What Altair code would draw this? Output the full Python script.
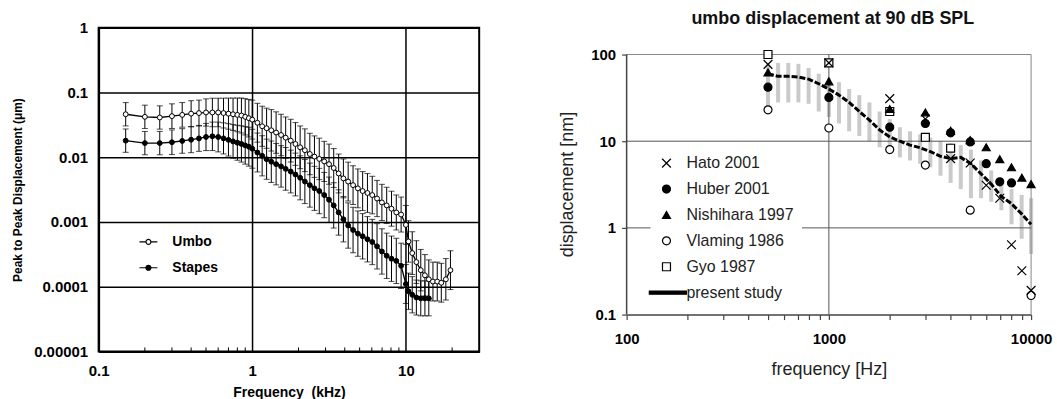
import altair as alt
import pandas as pd

FONT = "Liberation Sans"

# ---------------- Left panel: peak-to-peak displacement (µm) vs frequency (kHz)
FREQ_KHZ = [0.15, 0.2, 0.25, 0.3, 0.35, 0.4, 0.45, 0.5, 0.55, 0.6, 0.65, 0.7, 0.75, 0.8,
            0.85, 0.9, 0.95, 1.0,
            1.08, 1.16, 1.24, 1.33, 1.43, 1.54, 1.65, 1.78, 1.91,
            2.05, 2.2, 2.37, 2.54, 2.73, 2.94,
            3.16, 3.39, 3.65, 3.92,
            4.21, 4.53, 4.87,
            5.23, 5.62,
            6.04, 6.49, 6.98,
            7.5,
            8.06, 8.66,
            9.31,
            10.0, 10.4, 11.0, 11.7, 12.5, 13.3, 14.1, 15.0, 16.0, 17.0, 18.2, 19.5]

UMBO_UM = [0.046, 0.042, 0.041, 0.043, 0.045, 0.047, 0.048, 0.049, 0.049, 0.049, 0.048, 0.047,
           0.046, 0.045, 0.044, 0.042, 0.040, 0.038,
           0.034, 0.030, 0.028, 0.026, 0.024, 0.022, 0.020, 0.018, 0.016,
           0.0142, 0.0128, 0.0112, 0.0102, 0.0094, 0.0086,
           0.0078, 0.0068, 0.0056, 0.0047,
           0.0042, 0.0037, 0.0033,
           0.0030, 0.0028,
           0.0026, 0.0023, 0.0020,
           0.0018,
           0.0016, 0.0014,
           0.0013,
           0.0009, 0.0005, 0.00033, 0.00024, 0.00018, 0.00015, 0.00013, 0.00012, 0.00012,
           0.000115, 0.00013, 0.00018]

UMBO_ERR_DEC = [0.18, 0.18, 0.18, 0.19, 0.19, 0.2, 0.2, 0.21, 0.22, 0.22, 0.23, 0.24, 0.25,
                0.26, 0.27, 0.28, 0.29, 0.3,
                0.3, 0.31, 0.31, 0.32, 0.32, 0.32, 0.32, 0.33, 0.33,
                0.33, 0.33, 0.32, 0.32, 0.32, 0.31,
                0.31, 0.3, 0.3, 0.3,
                0.3, 0.3, 0.3,
                0.3, 0.3,
                0.29, 0.28, 0.28,
                0.28,
                0.27, 0.27,
                0.27,
                0.3, 0.32, 0.33, 0.33, 0.32, 0.32, 0.3, 0.3, 0.3, 0.3, 0.32, 0.3]

STAPES_UM = [0.018, 0.0165, 0.0165, 0.017, 0.0178, 0.0186, 0.0195, 0.0205, 0.021, 0.0205,
             0.0195, 0.0185, 0.0175, 0.0167, 0.016, 0.0152, 0.0145, 0.0135,
             0.0118, 0.0105, 0.0093, 0.0085, 0.0078, 0.0072, 0.0066, 0.006, 0.0054,
             0.0048, 0.0042, 0.0037, 0.0033, 0.003, 0.0026,
             0.0022, 0.0018, 0.0014, 0.0011,
             0.00088, 0.00075, 0.00066,
             0.0006, 0.00054,
             0.00049, 0.00042, 0.00035,
             0.0003,
             0.00027, 0.00025,
             0.00021,
             0.00011, 0.000085, 0.000075, 0.000068, 0.000066, 0.000066, 0.000066]

STAPES_ERR_DEC = [0.18, 0.18, 0.18, 0.19, 0.19, 0.2, 0.2, 0.21, 0.22, 0.23, 0.24, 0.25, 0.26,
                  0.27, 0.28, 0.29, 0.3, 0.3,
                  0.3, 0.31, 0.31, 0.32, 0.32, 0.32, 0.33, 0.33, 0.33,
                  0.34, 0.34, 0.34, 0.34, 0.35, 0.35,
                  0.35, 0.35, 0.35, 0.35,
                  0.35, 0.35, 0.35,
                  0.35, 0.35,
                  0.35, 0.35, 0.35,
                  0.35,
                  0.35, 0.35,
                  0.35,
                  0.3, 0.28, 0.28, 0.27, 0.27, 0.27, 0.27]

LEFT_SERIES = ["Umbo", "Stapes"]
LEFT_X_TICKS = [0.1, 1, 10]
LEFT_X_DOMAIN = [0.1, 30]
LEFT_Y_TICKS = [0.00001, 0.0001, 0.001, 0.01, 0.1, 1]
LEFT_MINOR_X = [0.2, 0.3, 0.4, 0.5, 0.6, 0.7, 0.8, 0.9, 2, 3, 4, 5, 6, 7, 8, 9, 20]

# ---------------- Right panel: umbo displacement at 90 dB SPL (nm) vs frequency (Hz)
STUDIES = ["Hato 2001", "Huber 2001", "Nishihara 1997", "Vlaming 1986", "Gyo 1987", "present study"]
HATO_F = [500, 1000, 2000, 3000, 4000, 5000, 6000, 7000, 8000, 9000, 10000]
HATO_NM = [77, 80, 31, 18, 6.3, 5.6, 3.1, 2.2, 0.64, 0.32, 0.19]
HUBER_F = [500, 1000, 2000, 3000, 4000, 5000, 6000, 7000, 8000]
HUBER_NM = [42, 32, 14.5, 16, 12.5, 9.8, 5.5, 3.4, 3.3]
NISHIHARA_F = [500, 1000, 2000, 3000, 4000, 5000, 6000, 7000, 8000, 9000, 10000]
NISHIHARA_NM = [62, 49, 23.5, 21.5, 13.2, 10.3, 8.5, 6.2, 5.0, 3.8, 3.2]
VLAMING_F = [500, 1000, 2000, 3000, 5000, 10000]
VLAMING_NM = [23, 14.2, 8.0, 5.3, 1.6, 0.166]
GYO_F = [500, 1000, 2000, 3000, 4000]
GYO_NM = [100, 80, 22, 11.1, 8.3]

PRESENT_F = [500, 561, 630, 707, 794, 891, 1000, 1122, 1260, 1414, 1587, 1782, 2000, 2245,
             2520, 2828, 3175, 3564, 4000, 4490, 5040, 5657, 6350, 7127, 8000, 8980, 10000]
PRESENT_NM = [60, 56, 56, 55, 52, 46, 40, 34, 28, 22, 17.5, 13.5, 11.2, 10, 9.0, 8.4, 7.6,
              6.7, 6.3, 6.5, 5.5, 4.2, 3.2, 2.3, 1.9, 1.45, 1.1]
PRESENT_LO = [23, 28, 28, 28, 27, 22, 19, 16, 13, 11.5, 10, 8.5, 7.5, 6.5, 6, 5.5, 5, 4, 3.3,
              2.8, 2.2, 2.2, 2.0, 1.6, 1.1, 0.75, 0.5]
PRESENT_HI = [77, 80, 80, 78, 70, 60, 54, 48, 40, 34, 28, 22, 18, 14.5, 13, 12, 11, 10, 9.5,
              9, 8, 6, 4.6, 3.5, 2.8, 2.4, 2.2]

RIGHT_X_TICKS = [100, 200, 300, 400, 500, 600, 700, 800, 900, 1000, 2000, 3000, 4000, 5000,
                 6000, 7000, 8000, 9000, 10000]
RIGHT_X_DOMAIN = [100, 10000]
RIGHT_Y_TICKS = [0.1, 1, 10, 100]
RIGHT_HGRID = [1, 10]
RIGHT_VGRID = [1000]
RIGHT_TITLE = "umbo displacement at 90 dB SPL"

# ---------------- left chart
W1, H1 = 382, 325

def series_df(name, f, v, e):
    return pd.DataFrame({"f": f, "v": v, "e": e, "series": name})

left_df = pd.concat([
    series_df("Stapes", FREQ_KHZ[:len(STAPES_UM)], STAPES_UM, STAPES_ERR_DEC),
    series_df("Umbo", FREQ_KHZ, UMBO_UM, UMBO_ERR_DEC),
], ignore_index=True)
left_df["lo"] = left_df["v"] / 10 ** left_df["e"]
left_df["hi"] = left_df["v"] * 10 ** left_df["e"]

xs1 = alt.Scale(type="log", domain=LEFT_X_DOMAIN, nice=False)
ys1 = alt.Scale(type="log", domain=[LEFT_Y_TICKS[0], LEFT_Y_TICKS[-1]], nice=False)
ax_x1 = alt.Axis(values=LEFT_X_TICKS, format="~g", title="Frequency\u00a0\u00a0(kHz)",
                 grid=True, gridColor="black", gridWidth=1.5, gridOpacity=1,
                 domain=True, domainColor="black", domainWidth=2, ticks=False,
                 labelFontSize=15, labelFontWeight="bold", labelColor="black",
                 labelPadding=12, labelFlush=False, labelFont=FONT,
                 titleFontSize=14, titleFontWeight="bold", titleColor="black",
                 titlePadding=7, titleFont=FONT)
ax_y1 = alt.Axis(values=LEFT_Y_TICKS, format="~g", title="Peak to Peak Displacement (\u03bcm)",
                 grid=True, gridColor="black", gridWidth=1.5, gridOpacity=1,
                 domain=True, domainColor="black", domainWidth=2, ticks=False,
                 labelFontSize=15, labelFontWeight="bold", labelColor="black",
                 labelPadding=11, labelFlush=False, labelFont=FONT,
                 titleFontSize=12, titleFontWeight="bold", titleColor="black",
                 titleAngle=270, titleBaseline="middle", titleX=-81, titleFont=FONT)

LEFT_SYM = ("M-2,0L-0.55,0M0.55,0L2,0M-0.55,0A0.55,0.55,0,1,1,0.55,0"
            "A0.55,0.55,0,1,1,-0.55,0Z")
leg1 = alt.Legend(title=None, orient="none", legendX=43, legendY=208, symbolType=LEFT_SYM,
                  symbolSize=81, symbolStrokeColor="black", symbolStrokeWidth=1.2,
                  labelFontSize=14, labelFontWeight="bold", labelColor="black", labelFont=FONT,
                  labelOffset=17, rowPadding=12, padding=0)

base1 = alt.Chart(left_df)
bars1 = base1.mark_rule(color="black", strokeWidth=1).encode(
    x=alt.X("f:Q", scale=xs1, axis=ax_x1),
    y=alt.Y("lo:Q", scale=ys1, axis=ax_y1), y2="hi:Q")
caps_hi = base1.mark_tick(orient="horizontal", size=6, thickness=1, color="black").encode(
    x=alt.X("f:Q", scale=xs1, axis=ax_x1), y=alt.Y("hi:Q", scale=ys1, axis=ax_y1))
caps_lo = base1.mark_tick(orient="horizontal", size=6, thickness=1, color="black").encode(
    x=alt.X("f:Q", scale=xs1, axis=ax_x1), y=alt.Y("lo:Q", scale=ys1, axis=ax_y1))
line1 = base1.mark_line(color="black", strokeWidth=1.3).encode(
    x=alt.X("f:Q", scale=xs1, axis=ax_x1), y=alt.Y("v:Q", scale=ys1, axis=ax_y1),
    detail="series:N")
pts1 = base1.mark_point(shape="circle", size=24, filled=True, stroke="black", strokeWidth=1,
                        opacity=1).encode(
    x=alt.X("f:Q", scale=xs1, axis=ax_x1), y=alt.Y("v:Q", scale=ys1, axis=ax_y1),
    fill=alt.Fill("series:N", scale=alt.Scale(domain=LEFT_SERIES, range=["white", "black"]),
                  legend=leg1))
minor1 = alt.Chart(pd.DataFrame({"t": LEFT_MINOR_X})).mark_rule(color="black", strokeWidth=1).encode(
    x=alt.X("t:Q", scale=xs1, axis=ax_x1), y=alt.value(H1), y2=alt.value(H1 - 4))

left = alt.layer(minor1, bars1, caps_hi, caps_lo, line1, pts1).properties(
    width=W1, height=H1, view=alt.ViewBackground(stroke="black", strokeWidth=2))

# ---------------- right chart
W2, H2 = 406, 288
YTOP_EXT = 204  # extra room above the 100 nm frame line so that the title fits
xs2 = alt.Scale(type="log", domain=RIGHT_X_DOMAIN, nice=False)
ys2 = alt.Scale(type="log", domain=[RIGHT_Y_TICKS[0], YTOP_EXT], nice=False)
ax_x2 = alt.Axis(values=RIGHT_X_TICKS, format="d",
                 labelExpr="(datum.value == 100 || datum.value == 1000 || datum.value == 10000) ? datum.label : ''",
                 title="frequency [Hz]", grid=False, domain=True, domainColor="#444",
                 domainWidth=1.5, ticks=True, tickColor="#444", tickWidth=1.2, tickSize=5,
                 labelFontSize=15, labelFontWeight="bold", labelColor="black", labelFont=FONT,
                 labelPadding=12, labelFlush=False, titleFontSize=18, titleFontWeight="normal",
                 titleColor="#222", titlePadding=14, titleFont=FONT)
ax_y2 = alt.Axis(values=RIGHT_Y_TICKS, format="~g", title="displacement [nm]", grid=False,
                 domain=False, ticks=True, tickColor="#444", tickWidth=1.2, tickSize=5,
                 labelFontSize=15, labelFontWeight="bold", labelColor="black", labelFont=FONT,
                 labelPadding=6, titleFontSize=18, titleFontWeight="normal", titleColor="#222",
                 titleAngle=270, titleBaseline="middle", titleX=-59, titleY=157, titleFont=FONT)

CROSS = "M-1.1,-1.1L1.1,1.1M-1.1,1.1L1.1,-1.1"
BAR = "M-4.3,-0.4L5,-0.4L5,0.4L-4.3,0.4Z"
shape_scale = alt.Scale(domain=STUDIES, range=[CROSS, "circle", "triangle-up", "circle", "square", BAR])
fill_scale = alt.Scale(domain=STUDIES, range=["transparent", "black", "black", "white", "white", "black"])
stroke_scale = alt.Scale(domain=STUDIES, range=["black"] * len(STUDIES))
leg2 = alt.Legend(title=None, orient="none", legendX=24, legendY=120, labelFontSize=16,
                  labelColor="#222", labelFont=FONT, fillColor="white", padding=8,
                  rowPadding=10, labelOffset=12, symbolStrokeColor="black",
                  symbolStrokeWidth=1.2, symbolSize=64)

pts_df = pd.concat([
    pd.DataFrame({"f": GYO_F, "v": GYO_NM, "study": "Gyo 1987"}),
    pd.DataFrame({"f": VLAMING_F, "v": VLAMING_NM, "study": "Vlaming 1986"}),
    pd.DataFrame({"f": HUBER_F, "v": HUBER_NM, "study": "Huber 2001"}),
    pd.DataFrame({"f": NISHIHARA_F, "v": NISHIHARA_NM, "study": "Nishihara 1997"}),
    pd.DataFrame({"f": HATO_F, "v": HATO_NM, "study": "Hato 2001"}),
], ignore_index=True)
present_df = pd.DataFrame({"f": PRESENT_F, "v": PRESENT_NM, "lo": PRESENT_LO, "hi": PRESENT_HI})

X2 = lambda field: alt.X(field, scale=xs2, axis=ax_x2)
Y2 = lambda field: alt.Y(field, scale=ys2, axis=ax_y2)

gray_bars = alt.Chart(present_df).mark_rule(color="#cacaca", strokeWidth=4).encode(
    x=X2("f:Q"), y=Y2("lo:Q"), y2="hi:Q")
hgrid = alt.Chart(pd.DataFrame({"g": RIGHT_HGRID})).mark_rule(color="#555", strokeWidth=1).encode(
    y=Y2("g:Q"), x=alt.value(0), x2=alt.value(W2))
top_frame = alt.Chart(pd.DataFrame({"g": [RIGHT_Y_TICKS[-1]]})).mark_rule(color="#888", strokeWidth=1).encode(
    y=Y2("g:Q"), x=alt.value(0), x2=alt.value(W2))
vgrid = alt.Chart(pd.DataFrame({"g": RIGHT_VGRID, "a": RIGHT_Y_TICKS[0], "b": RIGHT_Y_TICKS[-1]})).mark_rule(
    color="#555", strokeWidth=1).encode(x=X2("g:Q"), y=Y2("a:Q"), y2="b:Q")
right_frame = alt.Chart(pd.DataFrame({"g": [RIGHT_X_DOMAIN[1]], "a": RIGHT_Y_TICKS[0], "b": RIGHT_Y_TICKS[-1]})).mark_rule(
    color="#888", strokeWidth=1).encode(x=X2("g:Q"), y=Y2("a:Q"), y2="b:Q")
left_axis_line = alt.Chart(pd.DataFrame({"g": [RIGHT_X_DOMAIN[0]], "a": RIGHT_Y_TICKS[0], "b": RIGHT_Y_TICKS[-1]})).mark_rule(
    color="#444", strokeWidth=1.5).encode(x=X2("g:Q"), y=Y2("a:Q"), y2="b:Q")
line2 = alt.Chart(present_df).mark_line(color="black", strokeWidth=3, strokeDash=[6, 2]).encode(
    x=X2("f:Q"), y=Y2("v:Q"))
pts2 = alt.Chart(pts_df).mark_point(size=64, filled=True, strokeWidth=1.2, opacity=1).encode(
    x=X2("f:Q"), y=Y2("v:Q"),
    shape=alt.Shape("study:N", scale=shape_scale, legend=leg2),
    fill=alt.Fill("study:N", scale=fill_scale, legend=leg2),
    stroke=alt.Stroke("study:N", scale=stroke_scale, legend=leg2))
title2 = alt.Chart(pd.DataFrame({"t": [RIGHT_TITLE]})).mark_text(
    font=FONT, fontSize=18, fontWeight="bold", align="center", baseline="alphabetic",
    color="#111").encode(text="t:N", x=alt.value(207), y=alt.value(-4))

right = alt.layer(gray_bars, top_frame, right_frame, hgrid, vgrid, left_axis_line, line2, pts2,
                  title2).properties(width=W2, height=H2)

chart = alt.hconcat(left, right, spacing=79).resolve_scale(
    fill="independent", shape="independent", stroke="independent"
).resolve_legend(fill="independent", shape="independent", stroke="independent").properties(
    padding={"left": 11, "top": 9, "right": 5, "bottom": 5}
).configure(font=FONT).configure_view(stroke=None)

chart.save("out.html", embed_options={"renderer": "svg", "actions": False})
